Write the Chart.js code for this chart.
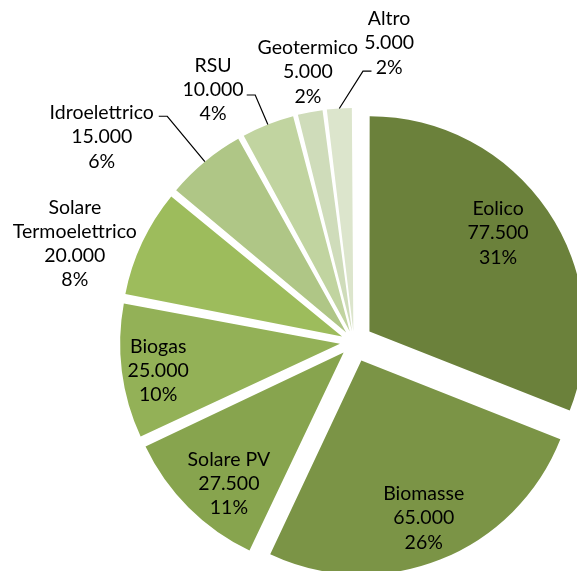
<!DOCTYPE html>
<html>
<head>
<meta charset="utf-8">
<script src="https://cdn.jsdelivr.net/npm/chart.js@4"></script>
<style>
  html, body { margin: 0; padding: 0; background: #ffffff; }
  #c { display: block; }
</style>
</head>
<body>
<canvas id="c" width="577" height="571"></canvas>
<script>
// ---- data ----
const categories = ['Eolico', 'Biomasse', 'Solare PV', 'Biogas', ['Solare', 'Termoelettrico'], 'Idroelettrico', 'RSU', 'Geotermico', 'Altro'];
const values = [77500, 65000, 27500, 25000, 20000, 15000, 10000, 5000, 5000];
const sliceColors = ['#6b813b', '#7b9446', '#87a44e', '#93b157', '#9dbc5c', '#afc686', '#c1d4a0', '#cfdcba', '#dce5cc'];

// label placement (angle shift from slice middle in degrees, distance as share of radius)
const labelAngleShift = [-2.9, 0, -3.6, -1.2, -5.8, -11.3, -7.6, 1.1, 10.3];
const labelRadius = [0.844, 0.885, 0.884, 0.925, 1.383, 1.519, 1.35, 1.28, 1.406];
// leader lines: null = none; [angle shift, distance share] of the bend point
const leaders = [null, null, null, null, null, [0, 1.369], [-0.2, 1.243], null, [5.5, 1.266]];

const total = values.reduce((a, b) => a + b, 0);
const fmt = v => String(v).replace(/\B(?=(\d{3})+(?!\d))/g, '.');
const FONT = '19.5px Lato, "Open Sans", sans-serif';
const LINE_H = 24.3;
const EXPLODE = 20; // wanted displacement of every slice, px

// Chart.js moves a slice by offset/4*(2 - sin(min(PI, circumference)));
// invert that so every slice is moved by EXPLODE pixels.
function sliceOffset(c) {
  const v = c.parsed;
  const circ = v / total * Math.PI * 2;
  const fix = 1 - Math.sin(Math.min(Math.PI, circ));
  return 4 * EXPLODE / (1 + fix);
}

const labelPlugin = {
  id: 'sliceLabels',
  afterDatasetsDraw(chart) {
    const ctx = chart.ctx;
    const meta = chart.getDatasetMeta(0);
    const data = chart.data.datasets[0].data;
    ctx.save();
    ctx.font = FONT;
    ctx.fillStyle = '#000000';
    ctx.textAlign = 'center';
    ctx.textBaseline = 'middle';
    meta.data.forEach((arc, i) => {
      const p = arc.getProps(['x', 'y', 'startAngle', 'endAngle', 'outerRadius'], true);
      const mid = (p.startAngle + p.endAngle) / 2;
      const ax = p.x + Math.cos(mid) * EXPLODE;
      const ay = p.y + Math.sin(mid) * EXPLODE;
      const la = mid + labelAngleShift[i] * Math.PI / 180;
      const lr = labelRadius[i] * p.outerRadius;
      const lx = p.x + Math.cos(la) * lr;
      const ly = p.y + Math.sin(la) * lr;
      const name = chart.data.labels[i];
      const lines = (Array.isArray(name) ? name.slice() : [name]);
      lines.push(fmt(data[i]));
      lines.push(Math.round(data[i] / total * 100) + '%');
      const y0 = ly - (lines.length - 1) * LINE_H / 2;
      lines.forEach((t, k) => ctx.fillText(t, lx, y0 + k * LINE_H));

      const ld = leaders[i];
      if (ld) {
        const ex = ax + Math.cos(mid) * p.outerRadius;
        const ey = ay + Math.sin(mid) * p.outerRadius;
        const ba = mid + ld[0] * Math.PI / 180;
        const bx = p.x + Math.cos(ba) * ld[1] * p.outerRadius;
        const by = p.y + Math.sin(ba) * ld[1] * p.outerRadius;
        const dir = lx > bx ? 1 : -1;
        ctx.beginPath();
        ctx.strokeStyle = '#000000';
        ctx.lineWidth = 1.2;
        ctx.moveTo(ex, ey);
        ctx.lineTo(bx, by);
        ctx.lineTo(bx + dir * 8.5, by);
        ctx.stroke();
      }
    });
    ctx.restore();
  }
};

new Chart(document.getElementById('c'), {
  type: 'pie',
  data: {
    labels: categories,
    datasets: [{
      data: values,
      backgroundColor: sliceColors,
      borderWidth: 0,
      offset: sliceOffset,
      radius: 214,
      clip: false
    }]
  },
  options: {
    responsive: false,
    animation: false,
    layout: { padding: { left: 131, top: 113, right: 0, bottom: 0 } },
    plugins: {
      legend: { display: false },
      tooltip: { enabled: false }
    }
  },
  plugins: [labelPlugin]
});
</script>
</body>
</html>
